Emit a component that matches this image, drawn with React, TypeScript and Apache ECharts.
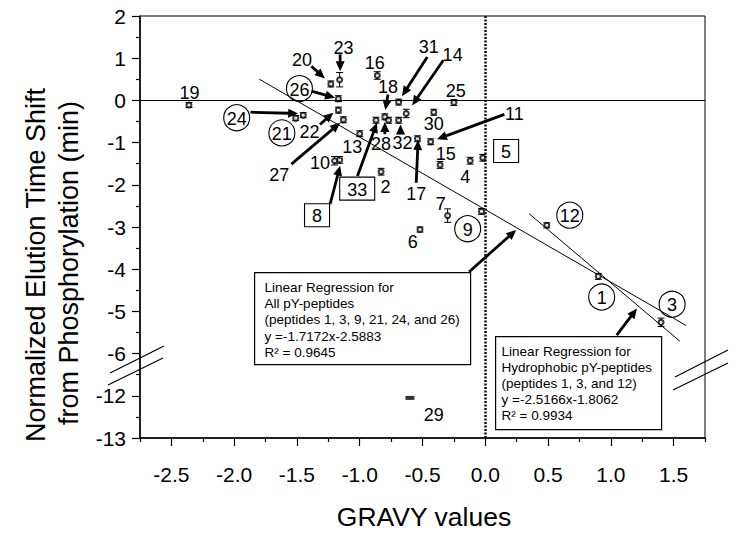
import React, { useEffect, useRef } from "react";
import * as echarts from "echarts";

const FONT = "'Liberation Sans', Arial, Helvetica, sans-serif";

// Peptide data: GRAVY value (x) and normalized elution time shift (y, min)
const peptideIds = ["1","2","3","4","5","6","7","8","9","10","11","12","13","14","15","16","17","18","19","20","21","22","23","24","25","26","27","28","29","30","31","32","33"];
const gravyValues = [0.90,-0.83,1.40,-0.12,-0.02,-0.52,-0.30,-1.16,-0.03,-1.20,-0.435,0.49,-1.00,-0.63,-0.36,-0.86,-0.54,-0.80,-2.36,-1.23,-1.51,-1.17,-1.16,-1.45,-0.25,-1.17,-1.13,-0.77,-0.60,-0.41,-0.69,-0.69,-0.87];
const shiftValues = [-4.17,-1.69,-5.26,-1.43,-1.36,-3.06,-2.73,-1.41,-2.63,-1.43,-0.98,-2.96,-0.79,-0.31,-1.53,0.59,-0.91,-0.39,-0.11,0.39,-0.42,-0.23,0.49,-0.35,-0.05,0.04,-0.46,-0.47,-12.05,-0.28,-0.04,-0.47,-0.47];
const shiftErrors = [0.07,0.08,0.10,0.08,0.08,0.06,0.16,0.08,0.07,0.10,0.07,0.06,0.07,0.10,0.08,0.09,0.07,0.07,0.06,0.07,0.06,0.07,0.17,0.06,0.07,0.07,0.07,0.07,0,0.07,0.07,0.07,0.07];

// Peptide label placement (data coordinates) and label frame kind
const labelX = [0.927,-0.795,1.488,-0.16,0.166,-0.577,-0.355,-1.34,-0.14,-1.317,0.232,0.673,-1.06,-0.26,-0.315,-0.88,-0.55,-0.775,-2.355,-1.46,-1.62,-1.40,-1.13,-1.98,-0.235,-1.48,-1.64,-0.83,-0.41,-0.41,-0.45,-0.66,-1.02];
const labelY = [-4.66,-2.03,-4.83,-1.78,-1.20,-3.33,-2.42,-2.72,-3.04,-1.47,-0.29,-2.72,-1.07,1.09,-1.24,0.90,-2.20,0.34,0.21,0.99,-0.77,-0.73,1.26,-0.41,0.24,0.28,-1.75,-1.02,-12.42,-0.54,1.29,-0.99,-2.09];
const labelFrames = ["circle","plain","circle","plain","box","plain","plain","box","circle","plain","plain","circle","plain","plain","plain","plain","plain","plain","plain","plain","circle","plain","plain","circle","plain","circle","plain","plain","plain","plain","plain","plain","box"];

// Pointer arrows [x1, y1, x2, y2] in data coordinates (head at x2,y2)
const arrows = [
  [-1.385, 0.81, -1.278, 0.52],
  [-1.156, 1.09, -1.156, 0.69],
  [-1.384, 0.22, -1.196, 0.06],
  [-1.87, -0.28, -1.49, -0.31],
  [-1.317, -0.57, -1.21, -0.29],
  [-1.544, -1.51, -1.156, -0.53],
  [-1.236, -2.46, -1.156, -1.55],
  [-1.018, -1.79, -0.863, -0.53],
  [-0.80, -0.80, -0.80, -0.51],
  [-0.775, 0.14, -0.796, -0.23],
  [-0.675, -0.80, -0.675, -0.57],
  [-0.462, 1.03, -0.663, 0.10],
  [-0.334, 0.95, -0.583, -0.12],
  [-0.55, -1.95, -0.535, -0.94],
  [0.152, -0.33, -0.385, -0.92],
  [-0.128, -4.06, 0.246, -3.07],
  [1.047, -5.56, 1.208, -4.93],
];

// Linear regressions
const regAllSlope = -1.7172;
const regAllIntercept = -2.5883;
const regAllRange = [-1.80, 1.60];
const regHydroSlope = -2.5166;
const regHydroIntercept = -1.8062;
const regHydroRange = [0.35, 1.55];

const boxAllLines = ["Linear Regression for", "All pY-peptides", "(peptides 1, 3, 9, 21, 24, and 26)", "y =-1.7172x-2.5883", "R² = 0.9645"];
const boxHydroLines = ["Linear Regression for", "Hydrophobic pY-peptides", "(peptides 1, 3, and 12)", "y =-2.5166x-1.8062", "R² = 0.9934"];

const xMajorTicks = [-2.5, -2.0, -1.5, -1.0, -0.5, 0.0, 0.5, 1.0, 1.5];

// broken y axis: values below -6.5 are shifted up by 5 units (-12 -> -7, -13 -> -8)
const disp = (y: number) => (y < -6.5 ? y + 5 : y);

export default function App() {
  const ref = useRef<HTMLDivElement>(null);
  useEffect(() => {
    if (!ref.current) return;
    const chart = echarts.init(ref.current, undefined, { renderer: "svg" });

    const scatterData = peptideIds.map((id, i) => {
      if (shiftValues[i] < -6.5) {
        return { value: [gravyValues[i], disp(shiftValues[i])], symbol: "rect", symbolSize: [9, 4], itemStyle: { color: "#000", borderWidth: 0 } };
      }
      return { value: [gravyValues[i], disp(shiftValues[i])] };
    });
    const errData = peptideIds.map((id, i) => [gravyValues[i], disp(shiftValues[i]), shiftErrors[i]]);
    const labelData = peptideIds.map((id, i) => [labelX[i], disp(labelY[i]), i]);
    const arrowData = arrows.map((a) => [a[0], disp(a[1]), a[2], disp(a[3])]);
    const regAll = regAllRange.map((x) => [x, regAllSlope * x + regAllIntercept]);
    const regHydro = regHydroRange.map((x) => [x, regHydroSlope * x + regHydroIntercept]);

    const option: any = {
      animation: false,
      backgroundColor: "#fff",
      textStyle: { fontFamily: FONT },
      grid: { left: 140, right: 36, top: 16, bottom: 98, show: true, borderColor: "#000", borderWidth: 1, backgroundColor: "transparent" },
      xAxis: {
        type: "value",
        min: -2.75,
        max: 1.75,
        interval: 0.5,
        axisLine: { show: true, onZero: false, lineStyle: { color: "#000", width: 1.5 } },
        axisTick: { show: true, length: 4, lineStyle: { color: "#000", width: 1.2 } },
        minorTick: { show: true, splitNumber: 2, length: 8, lineStyle: { color: "#000", width: 1.2 } },
        axisLabel: { customValues: xMajorTicks, formatter: (v: number) => v.toFixed(1), fontSize: 21, color: "#000", margin: 26, fontFamily: FONT },
        splitLine: { show: false },
        minorSplitLine: { show: false },
      },
      yAxis: {
        type: "value",
        min: -8,
        max: 2,
        interval: 1,
        axisLine: { show: true, onZero: false, lineStyle: { color: "#000", width: 1.5 } },
        axisTick: { show: true, length: 8, lineStyle: { color: "#000", width: 1.2 } },
        minorTick: { show: true, splitNumber: 2, length: 4, lineStyle: { color: "#000", width: 1.2 } },
        axisLabel: { formatter: (v: number) => (v < -6.5 ? String(v - 5) : String(v)), fontSize: 21, color: "#000", margin: 14, fontFamily: FONT },
        splitLine: { show: false },
      },
      graphic: [
        { type: "text", x: 424, y: 517, style: { text: "GRAVY values", fontSize: 26.5, fontFamily: FONT, fill: "#000", align: "center", verticalAlign: "middle" } },
        { type: "text", x: 35.5, y: 265, rotation: Math.PI / 2, style: { text: "Normalized Elution Time Shift", fontSize: 27, fontFamily: FONT, fill: "#000", align: "center", verticalAlign: "middle" } },
        { type: "text", x: 68.5, y: 263, rotation: Math.PI / 2, style: { text: "from Phosphorylation (min)", fontSize: 27, fontFamily: FONT, fill: "#000", align: "center", verticalAlign: "middle" } },
        {
          type: "group", left: 254, top: 272, z: 50,
          children: [
            { type: "rect", shape: { x: 0, y: 0, width: 216, height: 92 }, style: { fill: "#fff", stroke: "#000", lineWidth: 1.2 } },
            { type: "text", x: 10, y: 6.5, style: { text: boxAllLines.join("\n"), fontSize: 13.5, lineHeight: 16.3, fontFamily: FONT, fill: "#000" } },
          ],
        },
        {
          type: "group", left: 495, top: 336, z: 50,
          children: [
            { type: "rect", shape: { x: 0, y: 0, width: 166, height: 93 }, style: { fill: "#fff", stroke: "#000", lineWidth: 1.2 } },
            { type: "text", x: 6, y: 6.7, style: { text: boxHydroLines.join("\n"), fontSize: 13.5, lineHeight: 16.1, fontFamily: FONT, fill: "#000" } },
          ],
        },
        { type: "line", shape: { x1: 110, y1: 373, x2: 164, y2: 346 }, style: { stroke: "#000", lineWidth: 1.2 }, z: 60 },
        { type: "line", shape: { x1: 108, y1: 385, x2: 163, y2: 358 }, style: { stroke: "#000", lineWidth: 1.2 }, z: 60 },
        { type: "line", shape: { x1: 675, y1: 377, x2: 728, y2: 350 }, style: { stroke: "#000", lineWidth: 1.2 }, z: 60 },
        { type: "line", shape: { x1: 673, y1: 390, x2: 728, y2: 363 }, style: { stroke: "#000", lineWidth: 1.2 }, z: 60 },
      ],
      series: [
        {
          type: "line",
          data: regAll,
          symbol: "none",
          lineStyle: { color: "#000", width: 1 },
          z: 2,
          markLine: {
            silent: true,
            symbol: ["none", "none"],
            label: { show: false },
            data: [
              { yAxis: 0, lineStyle: { color: "#000", width: 1, type: "solid" } },
              { xAxis: 0, lineStyle: { color: "#111", width: 2.5, type: [2, 1.5] } },
            ],
          },
        },
        { type: "line", data: regHydro, symbol: "none", lineStyle: { color: "#000", width: 1 }, z: 2 },
        {
          type: "custom",
          data: errData,
          encode: { x: 0, y: 1 },
          z: 3,
          renderItem: (params: any, api: any) => {
            const x = api.value(0), y = api.value(1), e = api.value(2);
            if (!e) return null;
            const t = api.coord([x, y + e]);
            const b = api.coord([x, y - e]);
            const st = { stroke: "#000", lineWidth: 1 };
            return {
              type: "group",
              children: [
                { type: "line", shape: { x1: t[0], y1: t[1], x2: b[0], y2: b[1] }, style: st },
                { type: "line", shape: { x1: t[0] - 3.5, y1: t[1], x2: t[0] + 3.5, y2: t[1] }, style: st },
                { type: "line", shape: { x1: b[0] - 3.5, y1: b[1], x2: b[0] + 3.5, y2: b[1] }, style: st },
              ],
            };
          },
        },
        {
          type: "scatter",
          data: scatterData,
          symbol: "emptyCircle",
          symbolSize: 5,
          itemStyle: { color: "#000", borderWidth: 1 },
          z: 4,
        },
        {
          type: "custom",
          data: arrowData,
          encode: { x: [0, 2], y: [1, 3] },
          z: 5,
          renderItem: (params: any, api: any) => {
            const a = api.coord([api.value(0), api.value(1)]);
            const b = api.coord([api.value(2), api.value(3)]);
            const dx = b[0] - a[0], dy = b[1] - a[1];
            const L = Math.hypot(dx, dy) || 1;
            const ux = dx / L, uy = dy / L;
            const hl = 10, hw = 4.5;
            const base = [b[0] - ux * hl, b[1] - uy * hl];
            const left = [base[0] - uy * hw, base[1] + ux * hw];
            const right = [base[0] + uy * hw, base[1] - ux * hw];
            return {
              type: "group",
              children: [
                { type: "line", shape: { x1: a[0], y1: a[1], x2: base[0] + ux * 1, y2: base[1] + uy * 1 }, style: { stroke: "#000", lineWidth: 2.8 } },
                { type: "polygon", shape: { points: [b, left, right] }, style: { fill: "#000" } },
              ],
            };
          },
        },
        {
          type: "custom",
          data: labelData,
          encode: { x: 0, y: 1 },
          z: 6,
          renderItem: (params: any, api: any) => {
            const i = params.dataIndex;
            const p = api.coord([api.value(0), api.value(1)]);
            const text = peptideIds[i];
            const frame = labelFrames[i];
            const children: any[] = [];
            if (frame === "circle") {
              children.push({ type: "circle", shape: { cx: p[0], cy: p[1], r: 13 }, style: { fill: "none", stroke: "#000", lineWidth: 1.1 } });
            } else if (frame === "box") {
              const w = text.length * 10 + 15;
              children.push({ type: "rect", shape: { x: p[0] - w / 2, y: p[1] - 11.5, width: w, height: 23 }, style: { fill: "#fff", stroke: "#000", lineWidth: 1.1 } });
            }
            children.push({ type: "text", x: p[0], y: p[1] + 1, style: { text, fontSize: 18, fontFamily: FONT, fill: "#000", align: "center", verticalAlign: "middle" } });
            return { type: "group", children };
          },
        },
      ],
    };
    chart.setOption(option);
    return () => chart.dispose();
  }, []);
  return <div ref={ref} style={{ position: "absolute", left: 0, top: 0, width: 741, height: 536 }} />;
}
